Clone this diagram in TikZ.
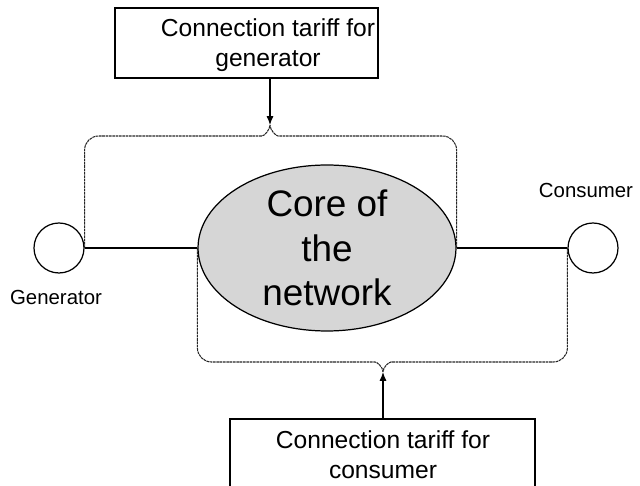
\documentclass[tikz,border=0pt]{standalone}
\usepackage{fontspec}
\setmainfont{Liberation Sans}
\usetikzlibrary{shapes.geometric, arrows.meta, calc}

\tikzset{
  tariffbox/.style={draw, line width=0.7pt, inner sep=0pt},
  tarifftext/.style={font=\fontsize{14}{17}\selectfont, align=center},
  endpoint/.style={circle, draw, line width=0.7pt, minimum size=1cm, inner sep=0pt},
  bracket/.style={dash pattern=on 1.5pt off 0.4pt, black!85, line width=0.6pt}
}

\begin{document}
\begin{tikzpicture}[x=0.02cm, y=-0.02cm, line width=0.7pt]
  \useasboundingbox (0,0) rectangle (640,486);

  % network parts
  \node[ellipse, draw, fill=black!16, minimum width=5.16cm, minimum height=3.32cm,
        inner sep=0pt, font=\fontsize{21}{25.5}\selectfont, align=center]
        (core) at (327,248) {Core of\\the\\network};
  \node[endpoint] (gen) at (59,248) {};
  \node[endpoint] (cons) at (593,248) {};
  \node[font=\fontsize{11.6}{14}\selectfont] (genlabel) at (56,297) {Generator};
  \node[font=\fontsize{11.6}{14}\selectfont] (conslabel) at (586,190) {Consumer};

  \draw (gen.east) -- (core.west);
  \draw (core.east) -- (cons.west);

  % tariff boxes
  \node[tariffbox, minimum width=5.26cm, minimum height=1.4cm] (tgen) at (246.5,43) {};
  \node[tarifftext] (tgentext) at (268,45) {Connection tariff for\\generator};
  \node[tariffbox, minimum width=6.1cm, minimum height=1.8cm] (tcons) at (382.5,464) {};
  \node[tarifftext] (tconstext) at (383,455) {Connection tariff for\\consumer};

  % braces
  \coordinate (gbar) at (270,136);
  \coordinate (gtip) at (270,125);
  \coordinate (cbar) at (383,362);
  \coordinate (ctip) at (383,372);

  \draw[bracket, rounded corners=8pt] (gen.east) -- (gen.east |- gbar) -- ($(gbar)+(-22,0)$)
    [sharp corners] .. controls ($(gbar)+(-6,0)$) and ($(gtip)+(0,5)$) .. (gtip);
  \draw[bracket, rounded corners=8pt] (core.east) -- (core.east |- gbar) -- ($(gbar)+(22,0)$)
    [sharp corners] .. controls ($(gbar)+(6,0)$) and ($(gtip)+(0,5)$) .. (gtip);
  \draw[bracket, rounded corners=8pt] (core.west) -- (core.west |- cbar) -- ($(cbar)+(-22,0)$)
    [sharp corners] .. controls ($(cbar)+(-6,0)$) and ($(ctip)+(0,-5)$) .. (ctip);
  \draw[bracket, rounded corners=8pt] (cons.west) -- (cons.west |- cbar) -- ($(cbar)+(22,0)$)
    [sharp corners] .. controls ($(cbar)+(6,0)$) and ($(ctip)+(0,-5)$) .. (ctip);

  \draw[-{Latex[length=5pt, width=4pt]}] (tgen.south -| gtip) -- (gtip);
  \draw[-{Latex[length=5pt, width=4pt]}] (tcons.north -| ctip) -- (ctip);
\end{tikzpicture}
\end{document}
